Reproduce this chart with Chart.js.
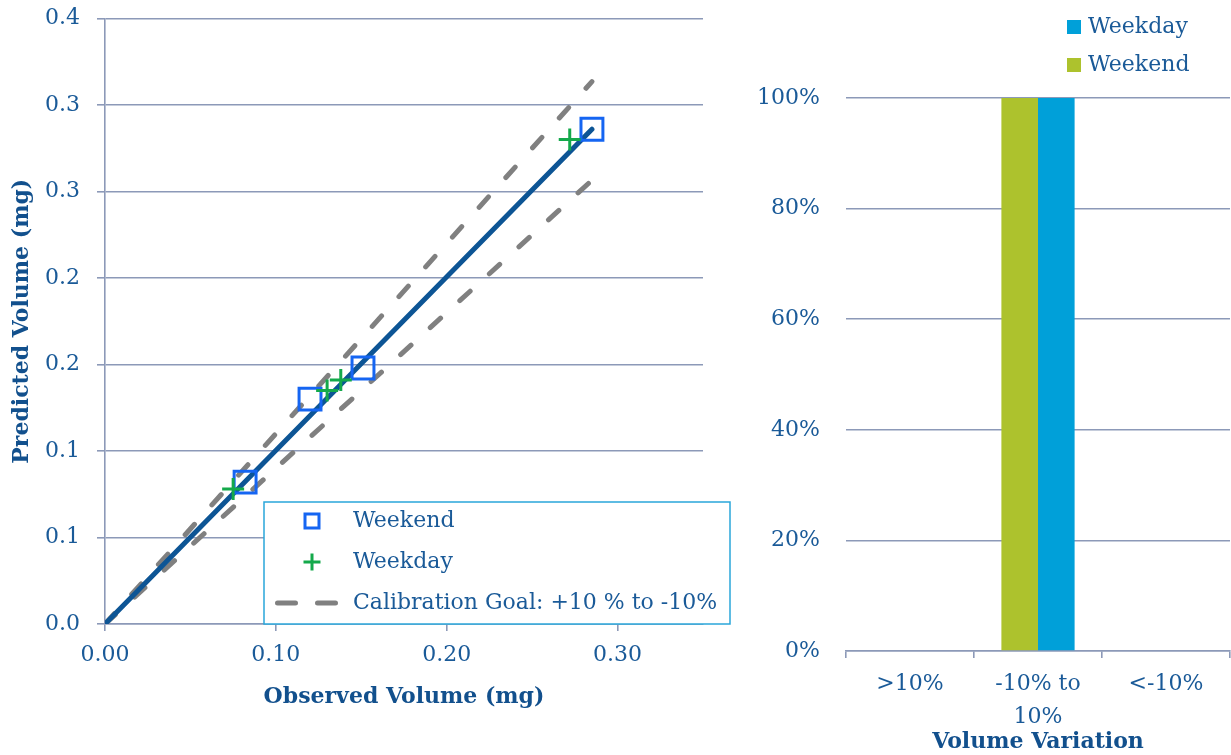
<!DOCTYPE html>
<html>
<head>
<meta charset="utf-8">
<script src="https://cdn.jsdelivr.net/npm/chart.js@4.4.0/dist/chart.umd.min.js"></script>
<style>
  html, body { margin: 0; padding: 0; background: #fff; }
  #wrap { position: relative; width: 1231px; height: 755px; overflow: hidden; }
  #left { position: absolute; left: 0; top: 0; }
  #right { position: absolute; left: 735px; top: 0; }
</style>
</head>
<body>
<div id="wrap">
  <canvas id="left" width="735" height="755"></canvas>
  <canvas id="right" width="496" height="755"></canvas>
</div>
<script>
// LEFT : observed vs predicted (mg)
const weekendObserved = [0.082, 0.120, 0.151, 0.285];
const weekendPredicted = [0.082, 0.130, 0.148, 0.286];
const weekdayObserved = [0.075, 0.130, 0.138, 0.272];
const weekdayPredicted = [0.078, 0.135, 0.141, 0.280];
const fitObserved = [0, 0.285];
const fitPredicted = [0, 0.286];
const goalObserved = [0, 0.285];
const goalUpper = [0, 0.3135];
const goalLower = [0, 0.2565];

const leftXTicks = [0, 0.1, 0.2, 0.3];
const leftXTickLabels = ['0.00', '0.10', '0.20', '0.30'];
const leftYTickLabels = ['0.0', '0.1', '0.1', '0.2', '0.2', '0.3', '0.3', '0.4'];

// RIGHT : share per variation class
const variationLabels = ['>10%', ['-10% to', '10%'], '<-10%'];
const weekendShare = [0, 1, 0];
const weekdayShare = [0, 1, 0];
const rightYTickLabels = ['0%', '20%', '40%', '60%', '80%', '100%'];

const FONT = "'DejaVu Serif', serif";
const TICK = '#1a5a98';
const TITLE = '#12508d';
const GRID = '#8c99b8';
const SQUARE = '#1565f2';
const PLUS = '#14a94b';
const GOAL = '#808080';

function toPoints(xs, ys) {
  return xs.map((x, i) => ({ x: x, y: ys[i] }));
}

function drawSquare(ctx, x, y, half) {
  ctx.beginPath();
  ctx.rect(x - half, y - half, half * 2, half * 2);
  ctx.stroke();
}
function drawPlus(ctx, x, y, arm) {
  ctx.beginPath();
  ctx.moveTo(x - arm, y); ctx.lineTo(x + arm, y);
  ctx.moveTo(x, y - arm); ctx.lineTo(x, y + arm);
  ctx.stroke();
}

// legend box inside the scatter plot
const leftLegend = {
  id: 'leftLegend',
  afterDraw(chart) {
    const ctx = chart.ctx;
    ctx.save();
    ctx.fillStyle = '#fff';
    ctx.fillRect(264, 502, 466, 122);
    ctx.strokeStyle = '#2aa6da';
    ctx.lineWidth = 1.5;
    ctx.strokeRect(264, 502, 466, 122);

    ctx.lineWidth = 3;
    ctx.strokeStyle = SQUARE;
    drawSquare(ctx, 312, 521, 7);
    ctx.strokeStyle = PLUS;
    drawPlus(ctx, 312, 562, 8.5);
    ctx.strokeStyle = GOAL;
    ctx.lineWidth = 5;
    ctx.lineCap = 'round';
    ctx.setLineDash([18, 22]);
    ctx.beginPath();
    ctx.moveTo(277.5, 603); ctx.lineTo(336, 603);
    ctx.stroke();
    ctx.setLineDash([]);

    ctx.fillStyle = TICK;
    ctx.font = '22px ' + FONT;
    ctx.textBaseline = 'middle';
    ctx.textAlign = 'left';
    ctx.fillText('Weekend', 353, 521);
    ctx.fillText('Weekday', 353, 562);
    ctx.fillText('Calibration Goal: +10 % to -10%', 353, 603);
    ctx.restore();
  }
};

const rightLegend = {
  id: 'rightLegend',
  afterDraw(chart) {
    const ctx = chart.ctx;
    ctx.save();
    ctx.fillStyle = '#00a0d9';
    ctx.fillRect(332, 20, 14, 14);
    ctx.fillStyle = '#adc22d';
    ctx.fillRect(332, 58, 14, 14);
    ctx.fillStyle = TICK;
    ctx.font = '22px ' + FONT;
    ctx.textBaseline = 'middle';
    ctx.fillText('Weekday', 353, 27);
    ctx.fillText('Weekend', 353, 65);
    ctx.restore();
  }
};

const lineDefaults = { showLine: true, pointRadius: 0, fill: false };

new Chart(document.getElementById('left'), {
  type: 'scatter',
  data: {
    datasets: [
      { label: 'Weekend', data: toPoints(weekendObserved, weekendPredicted), pointStyle: 'rect',
        pointRadius: 15.5, pointBorderWidth: 3, borderColor: SQUARE, backgroundColor: 'rgba(0,0,0,0)', order: 1 },
      { label: 'Weekday', data: toPoints(weekdayObserved, weekdayPredicted), pointStyle: 'cross',
        pointRadius: 11, pointBorderWidth: 3, borderColor: PLUS, backgroundColor: PLUS, order: 0 },
      Object.assign({ label: 'Fit', data: toPoints(fitObserved, fitPredicted),
        borderColor: '#0d5595', borderWidth: 5, borderCapStyle: 'round', order: 2 }, lineDefaults),
      Object.assign({ label: 'Calibration Goal: +10 % to -10%', data: toPoints(goalObserved, goalUpper),
        borderColor: GOAL, borderWidth: 5, borderDash: [14, 26], borderCapStyle: 'round', order: 3 }, lineDefaults),
      Object.assign({ label: 'Goal low', data: toPoints(goalObserved, goalLower),
        borderColor: GOAL, borderWidth: 5, borderDash: [14, 26], borderCapStyle: 'round', order: 3 }, lineDefaults)
    ]
  },
  options: {
    responsive: false,
    animation: false,
    devicePixelRatio: 1,
    events: [],
    layout: { padding: { top: 17, right: 32, left: 0, bottom: 0 } },
    plugins: { legend: { display: false }, tooltip: { enabled: false } },
    scales: {
      x: {
        type: 'linear', min: 0, max: 0.35,
        afterBuildTicks: (s) => { s.ticks = leftXTicks.map(v => ({ value: v })); },
        afterFit: (s) => { s.height = 131; },
        grid: { drawOnChartArea: false, tickLength: 7, color: GRID, lineWidth: 1.6 },
        border: { color: GRID, width: 1.6 },
        ticks: { color: TICK, font: { family: FONT, size: 22 }, padding: 11, maxRotation: 0, autoSkip: false,
          callback: (v, i) => leftXTickLabels[i] },
        title: { display: true, text: 'Observed Volume (mg)', color: TITLE,
          font: { family: FONT, size: 22, weight: 'bold' }, padding: { top: 0, bottom: 45 } }
      },
      y: {
        type: 'linear', min: 0, max: 0.35,
        afterFit: (s) => { s.width = 105; s.paddingTop = 0; s.paddingBottom = 0; },
        grid: { color: GRID, lineWidth: 1.6, tickLength: 8 },
        border: { color: GRID, width: 1.6 },
        ticks: { stepSize: 0.05, color: TICK, font: { family: FONT, size: 22 }, padding: 17,
          callback: (v, i) => leftYTickLabels[i] },
        title: { display: true, text: 'Predicted Volume (mg)', color: TITLE,
          font: { family: FONT, size: 22, weight: 'bold' }, padding: { top: 9, bottom: 0 } }
      }
    }
  },
  plugins: [leftLegend]
});

new Chart(document.getElementById('right'), {
  type: 'bar',
  data: {
    labels: variationLabels,
    datasets: [
      { label: 'Weekend', data: weekendShare, backgroundColor: '#adc22d' },
      { label: 'Weekday', data: weekdayShare, backgroundColor: '#00a0d9' }
    ]
  },
  options: {
    responsive: false,
    animation: false,
    devicePixelRatio: 1,
    events: [],
    layout: { padding: { top: 98, right: 1, left: 0, bottom: 0 } },
    datasets: { bar: { categoryPercentage: 0.572, barPercentage: 1 } },
    plugins: { legend: { display: false }, tooltip: { enabled: false } },
    scales: {
      x: {
        afterFit: (s) => { s.height = 104; },
        grid: { offset: true, drawOnChartArea: false, tickLength: 7, color: GRID, lineWidth: 1.6 },
        border: { color: GRID, width: 1.6 },
        ticks: { color: TICK, font: { family: FONT, size: 22, lineHeight: 1.5 }, padding: 10,
          maxRotation: 0, autoSkip: false },
        title: { display: true, text: 'Volume Variation', color: TITLE,
          font: { family: FONT, size: 22, weight: 'bold' }, padding: { top: 0, bottom: 0 } }
      },
      y: {
        min: 0, max: 1,
        afterFit: (s) => { s.width = 111; s.paddingTop = 0; s.paddingBottom = 0; },
        grid: { color: GRID, lineWidth: 1.6, drawTicks: false },
        border: { display: false },
        ticks: { stepSize: 0.2, color: TICK, font: { family: FONT, size: 22 }, padding: 26,
          callback: (v, i) => rightYTickLabels[i] }
      }
    }
  },
  plugins: [rightLegend]
});
</script>
</body>
</html>
